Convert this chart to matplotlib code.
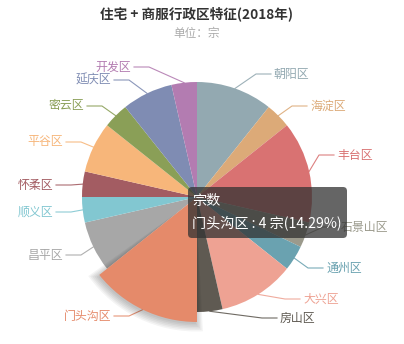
import numpy as np
import matplotlib.pyplot as plt
from matplotlib.patches import FancyBboxPatch, Wedge

plt.rcParams['font.family'] = ['Noto Sans CJK SC', 'DejaVu Sans']

# data: clockwise from 12 o'clock
districts = ['朝阳区', '海淀区', '丰台区', '石景山区', '通州区', '大兴区', '房山区',
             '门头沟区', '昌平区', '顺义区', '怀柔区', '平谷区', '密云区', '延庆区', '开发区']
counts = [3, 1, 4, 1, 1, 3, 1, 4, 2, 1, 1, 2, 1, 2, 1]
colors = ['#93a9b1', '#dcaa78', '#d97272', '#9b9a8c', '#6aa2b0', '#eea293', '#5f5a52',
          '#e58a6a', '#a7a7a7', '#82c7d1', '#a35c62', '#f7b67a', '#8a9f57', '#7f8cb3', '#b37cb1']
highlight = '门头沟区'

# label anchor positions in pixels (x, y from top)
label_pos = {
    '朝阳区': (274, 74), '海淀区': (310, 106), '丰台区': (337, 155), '石景山区': (341, 227),
    '通州区': (326, 268), '大兴区': (303, 299), '房山区': (280, 318),
    '开发区': (131, 67), '延庆区': (111, 80), '密云区': (84, 106), '平谷区': (63, 142),
    '怀柔区': (53, 185), '顺义区': (53, 212), '昌平区': (63, 255), '门头沟区': (111, 316),
}

W, H = 404, 344
cx, cy = 197, H - 197
R = 115


def py(y):
    return H - y


fig = plt.figure(figsize=(W / 100, H / 100), dpi=100)
ax = fig.add_axes([0, 0, 1, 1])

wedges, _ = ax.pie(counts, colors=colors, startangle=90, counterclock=False,
                   center=(cx, cy), radius=R, wedgeprops=dict(linewidth=0))

hi = districts.index(highlight)
hw = wedges[hi]
hw.set_radius(R + 10)
hw.set_zorder(5)
# soft shadow under the highlighted slice
for k in range(6):
    sh = Wedge((cx - 1, cy - 2), R + 10 + k * 1.5, hw.theta1 - k * 0.6, hw.theta2 + k * 0.6,
               color='black', alpha=0.045, linewidth=0, zorder=4)
    ax.add_patch(sh)

total = sum(counts)
cum = np.cumsum([0] + counts)
for i, name in enumerate(districts):
    mid = (cum[i] + cum[i + 1]) / 2 / total * 2 * np.pi
    r = R + 10 if i == hi else R
    x0, y0 = cx + r * np.sin(mid), cy + r * np.cos(mid)
    lx, ly = label_pos[name]
    right = lx > cx
    ex = lx - 18 if right else lx + 18
    ax.plot([x0, ex, lx - 3 if right else lx + 3], [y0, py(ly), py(ly)],
            color=colors[i], lw=0.8, alpha=0.9, zorder=3)
    ax.text(lx, py(ly), name, color=colors[i], fontsize=8.6,
            ha='left' if right else 'right', va='center', zorder=3)

ax.text(197, py(14), '住宅 + 商服行政区特征(2018年)', fontsize=9.8, fontweight='bold',
        color='#333333', ha='center', va='center')
ax.text(197, py(34), '单位：宗', fontsize=8.4, color='#aaaaaa', ha='center', va='center')

# tooltip
box = FancyBboxPatch((188, py(238)), 159, 51, boxstyle='round,pad=0,rounding_size=4',
                     facecolor=(50 / 255, 50 / 255, 50 / 255, 0.75), edgecolor='none', zorder=10)
ax.add_patch(box)
ax.text(192, py(201), '宗数', color='white', fontsize=10.2, ha='left', va='center', zorder=11)
ax.text(192, py(223), f'{highlight} : {counts[hi]} 宗({counts[hi] / total * 100:.2f}%)',
        color='white', fontsize=10.2, ha='left', va='center', zorder=11)

ax.set_xlim(0, W)
ax.set_ylim(0, H)
ax.set_aspect('auto')
ax.axis('off')

fig.savefig('out.png', dpi=100, facecolor='white')
